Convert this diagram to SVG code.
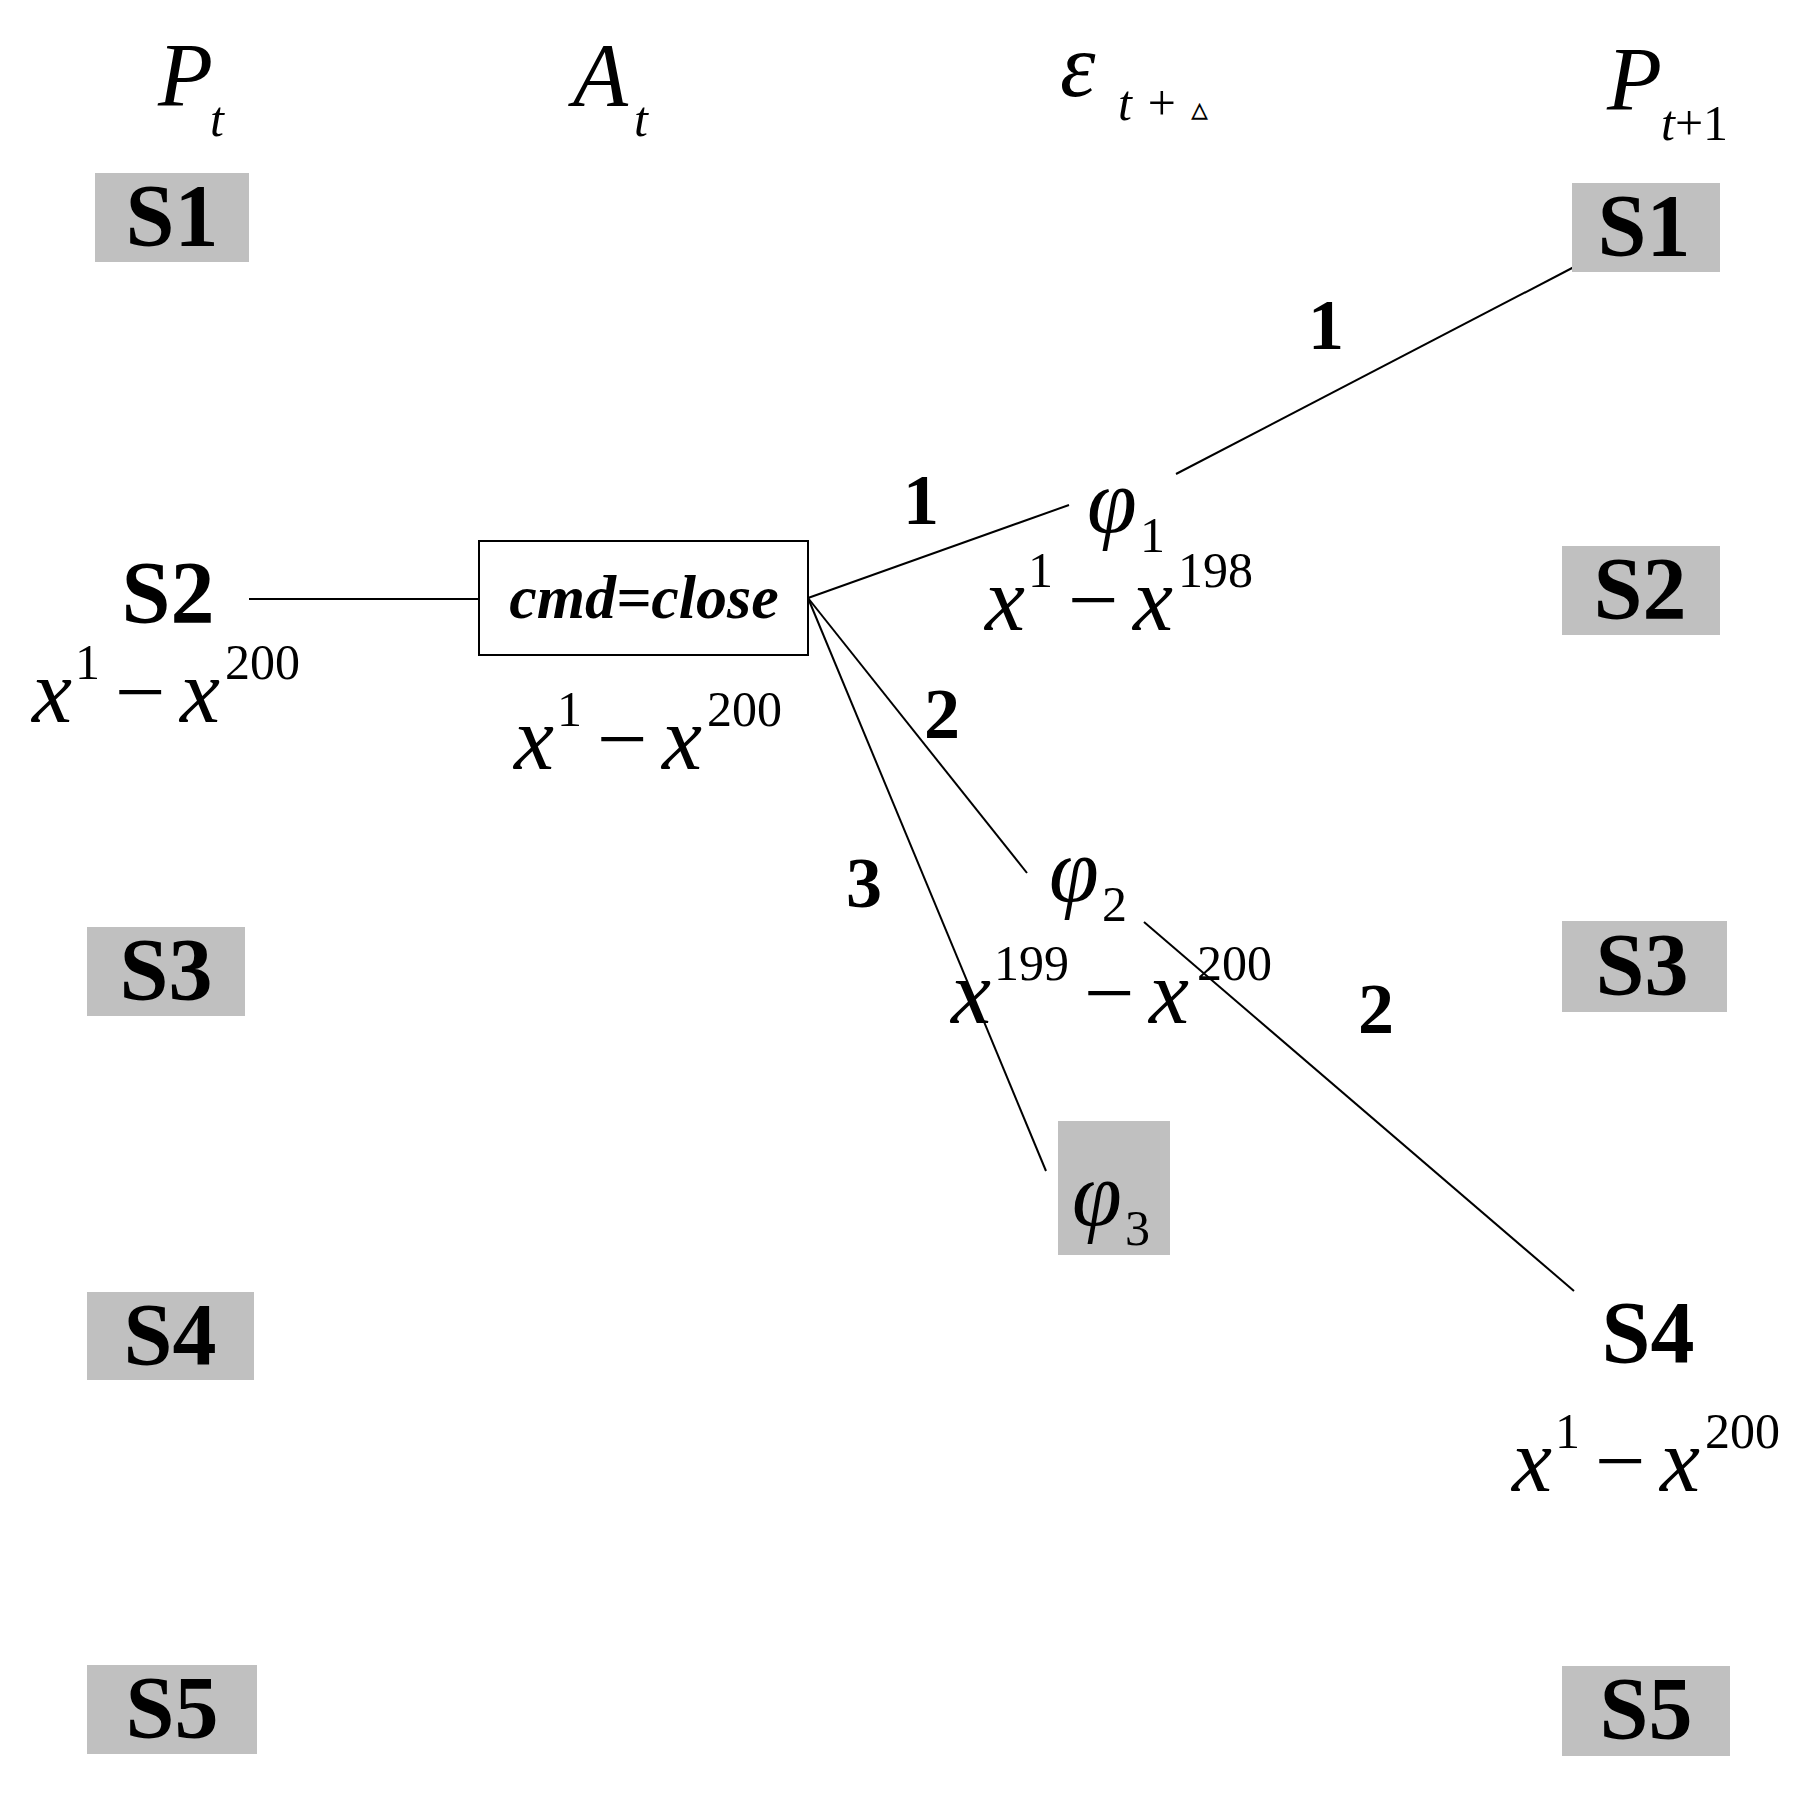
<svg xmlns="http://www.w3.org/2000/svg" width="1810" height="1796" viewBox="0 0 1810 1796">
<style>
.bx{fill:#c0c0c0}
.s{font-family:"Liberation Serif",serif;font-weight:bold;font-size:88px;text-anchor:middle}
.m{font-family:"Liberation Serif",serif;font-style:italic;font-size:90px}
.r{font-family:"Liberation Serif",serif;font-size:90px}
.sp{font-family:"Liberation Serif",serif;font-size:50px}
.si{font-family:"Liberation Serif",serif;font-style:italic;font-size:50px}
.n{font-family:"Liberation Serif",serif;font-weight:bold;font-size:72px;text-anchor:middle}
.ln{stroke:#000;stroke-width:2;fill:none}
</style>
<rect width="1810" height="1796" fill="#fff"/>
<g id="headers">
<text class="m" x="158" y="106">P</text><text class="si" x="210" y="136">t</text>
<text class="m" x="573" y="106">A</text><text class="si" x="634" y="136">t</text>
<text class="m" x="1060" y="96" font-size="110">ε</text><text class="si" x="1118" y="120">t + <tspan font-style="normal" font-size="34">▵</tspan></text>
<text class="m" x="1607" y="110">P</text><text class="si" x="1661" y="140">t<tspan font-style="normal">+1</tspan></text>
</g>
<g id="connectors">
<line class="ln" x1="249" y1="599" x2="479" y2="599"/>
<line class="ln" x1="808" y1="598" x2="1069" y2="505"/>
<line class="ln" x1="1176" y1="474" x2="1574" y2="267"/>
<line class="ln" x1="808" y1="598" x2="1027" y2="873"/>
<line class="ln" x1="1144" y1="922" x2="1574" y2="1291"/>
<line class="ln" x1="808" y1="598" x2="1046" y2="1171"/>
<text class="n" x="921" y="524">1</text>
<text class="n" x="1326" y="349">1</text>
<text class="n" x="942" y="738">2</text>
<text class="n" x="1376" y="1033">2</text>
<text class="n" x="864" y="907">3</text>
</g>
<g id="L-S1"><rect class="bx" x="95" y="173" width="154" height="89"/><text class="s" x="172" y="245">S1</text></g>
<g id="L-S2"><text class="s" x="168" y="622">S2</text>
<text class="m" x="32" y="722">x</text><text class="sp" x="75" y="679">1</text><text class="r" x="115" y="722">−</text><text class="m" x="180" y="722">x</text><text class="sp" x="225" y="679">200</text></g>
<g id="L-S3"><rect class="bx" x="87" y="927" width="158" height="89"/><text class="s" x="166" y="999">S3</text></g>
<g id="L-S4"><rect class="bx" x="87" y="1292" width="167" height="88"/><text class="s" x="170" y="1364">S4</text></g>
<g id="L-S5"><rect class="bx" x="87" y="1665" width="170" height="89"/><text class="s" x="172" y="1737">S5</text></g>
<g id="cmd"><rect x="479" y="541" width="329" height="114" fill="#fff" stroke="#000" stroke-width="2"/>
<text x="644" y="618" text-anchor="middle" font-family="Liberation Serif,serif" font-weight="bold" font-style="italic" font-size="62">cmd=close</text>
<text class="m" x="514" y="769">x</text><text class="sp" x="557" y="726">1</text><text class="r" x="597" y="769">−</text><text class="m" x="662" y="769">x</text><text class="sp" x="707" y="726">200</text></g>
<g id="phi1"><text class="m" x="1087" y="532">φ</text><text class="sp" x="1140" y="552">1</text>
<text class="m" x="985" y="630">x</text><text class="sp" x="1028" y="587">1</text><text class="r" x="1068" y="630">−</text><text class="m" x="1133" y="630">x</text><text class="sp" x="1178" y="587">198</text></g>
<g id="phi2"><text class="m" x="1049" y="901">φ</text><text class="sp" x="1102" y="921">2</text>
<text class="m" x="951" y="1023">x</text><text class="sp" x="994" y="980">199</text><text class="r" x="1084" y="1023">−</text><text class="m" x="1149" y="1023">x</text><text class="sp" x="1197" y="980">200</text></g>
<g id="phi3"><rect class="bx" x="1058" y="1121" width="112" height="134"/><text class="m" x="1072" y="1225">φ</text><text class="sp" x="1125" y="1245">3</text></g>
<g id="R-S1"><rect class="bx" x="1572" y="183" width="148" height="89"/><text class="s" x="1644" y="255">S1</text></g>
<g id="R-S2"><rect class="bx" x="1562" y="546" width="158" height="89"/><text class="s" x="1640" y="618">S2</text></g>
<g id="R-S3"><rect class="bx" x="1562" y="921" width="165" height="91"/><text class="s" x="1642" y="994">S3</text></g>
<g id="R-S4"><text class="s" x="1648" y="1362">S4</text>
<text class="m" x="1512" y="1491">x</text><text class="sp" x="1555" y="1448">1</text><text class="r" x="1595" y="1491">−</text><text class="m" x="1660" y="1491">x</text><text class="sp" x="1705" y="1448">200</text></g>
<g id="R-S5"><rect class="bx" x="1562" y="1666" width="168" height="90"/><text class="s" x="1646" y="1738">S5</text></g>
</svg>
